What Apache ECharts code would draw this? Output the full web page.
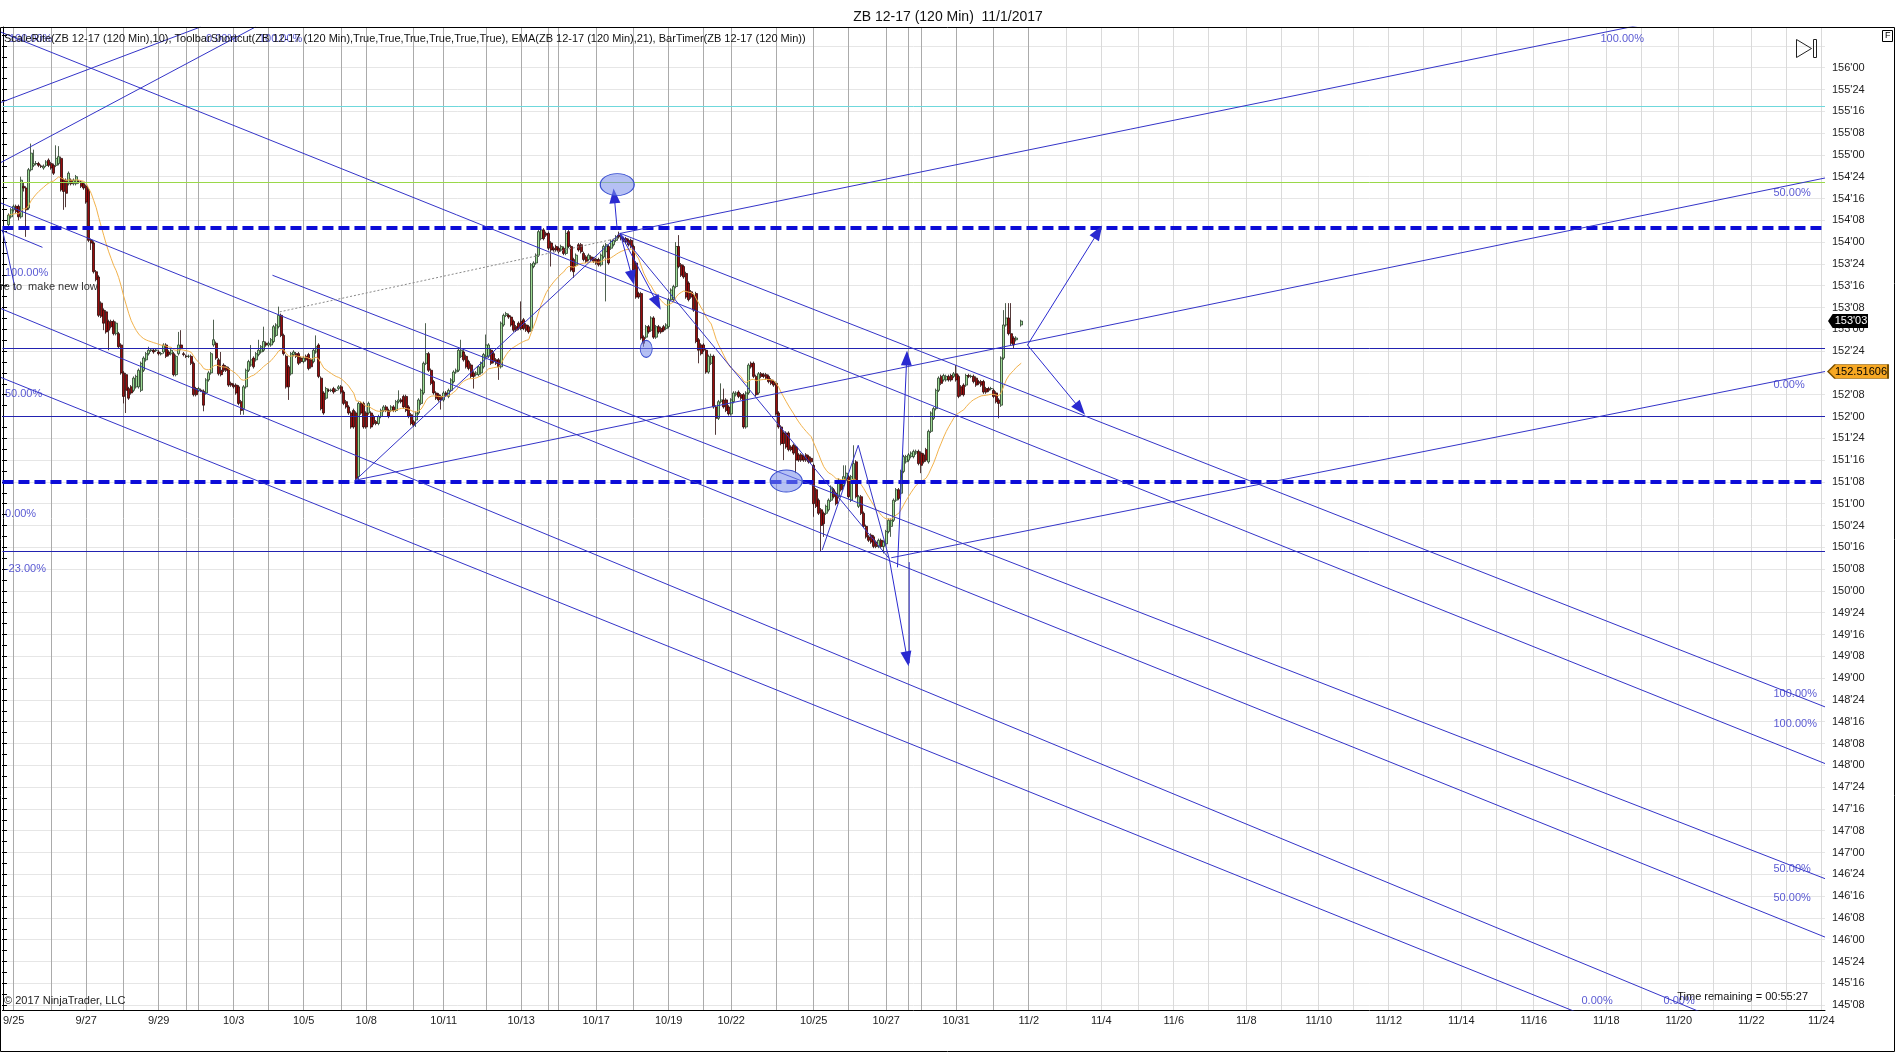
<!DOCTYPE html>
<html><head><meta charset="utf-8">
<script src="https://cdn.jsdelivr.net/npm/echarts@6/dist/echarts.min.js"></script>
<style>html,body{margin:0;padding:0;background:#fff}#c{width:1896px;height:1055px}</style>
</head><body><div id="c"></div>
<script>
// ---------------- DATA ----------------
const N_SLOTS = 729;          // bar slots on the time axis (history + projected future)
const FIRST_SLOT = 2;
// candles [open, close, low, high]
const seg1 = [
[154.20,154.31,154.18,154.33],[154.29,154.37,154.27,154.39],[154.37,154.41,154.35,154.43],[154.41,154.35,154.33,154.43],
[154.41,154.29,154.25,154.43],[154.29,154.71,154.27,154.75],[154.64,154.62,154.58,154.68],[154.62,154.37,154.06,154.64],
[154.39,154.83,154.37,154.85],[154.83,155.02,154.81,155.13],[154.88,154.90,154.86,155.06],[154.90,154.90,154.88,154.93],
[154.90,154.88,154.86,154.92],[154.87,154.87,154.85,154.89],[154.85,154.87,154.83,154.89],[154.88,154.92,154.86,154.94],
[154.94,154.88,154.86,154.96],[154.90,154.85,154.83,154.92],[154.88,154.79,154.77,154.90],[154.88,154.96,154.86,155.11],
[154.90,154.98,154.88,155.10],[154.96,154.60,154.58,154.98],[154.71,154.58,154.37,154.73],[154.71,154.56,154.40,154.73],
[154.67,154.79,154.65,154.81],[154.71,154.67,154.65,154.73],[154.67,154.71,154.65,154.73],[154.67,154.75,154.65,154.77],
[154.69,154.69,154.67,154.71],[154.69,154.64,154.62,154.71],[154.67,154.62,154.60,154.69],[154.64,154.46,154.44,154.66],
[154.60,154.02,154.00,154.62],[154.02,153.99,153.91,154.04],[153.99,153.66,153.64,154.01],[153.66,153.57,153.55,153.68],
[153.60,153.16,153.14,153.62],[153.30,153.15,153.13,153.32],[153.22,153.07,152.99,153.24],[153.20,152.97,152.95,153.22],
[153.09,152.99,152.76,153.11],[153.09,153.03,153.01,153.11],[153.09,152.95,152.93,153.11],[152.95,153.07,152.93,153.09],
[152.95,152.80,152.78,152.97],[152.82,152.50,152.48,152.84],[152.50,152.23,152.15,152.52],[152.48,152.30,152.04,152.50],
[152.32,152.21,152.19,152.34],[152.34,152.27,152.25,152.36],[152.30,152.44,152.28,152.46],[152.34,152.46,152.32,152.48],
[152.34,152.53,152.32,152.55],[152.30,152.61,152.28,152.63],[152.53,152.67,152.51,152.69],[152.65,152.72,152.63,152.74],
[152.72,152.76,152.70,152.80],[152.76,152.76,152.74,152.78],[152.76,152.74,152.72,152.78],[152.76,152.76,152.74,152.78],
[152.74,152.72,152.70,152.76],[152.72,152.72,152.70,152.74],[152.74,152.82,152.72,152.84],[152.82,152.69,152.67,152.84],
[152.74,152.71,152.69,152.76],[152.72,152.76,152.70,152.78],[152.72,152.48,152.46,152.74],[152.48,152.69,152.46,152.71],
[152.72,152.82,152.70,152.97],[152.82,152.78,152.76,152.99],[152.72,152.71,152.69,152.74],[152.69,152.69,152.67,152.71],
[152.69,152.69,152.67,152.71],[152.69,152.61,152.59,152.71],[152.61,152.25,152.23,152.63],[152.32,152.25,152.23,152.34],
[152.30,152.32,152.28,152.34],[152.30,152.30,152.28,152.32],[152.29,152.13,152.06,152.31],[152.27,152.42,152.25,152.44],
[152.42,152.50,152.40,152.52],[152.50,152.72,152.48,152.74]];
const seg2 = [
[152.82,152.88,152.80,153.11],[152.84,152.67,152.65,152.86],[152.65,152.49,152.47,152.67],[152.53,152.48,152.46,152.74],
[152.59,152.53,152.51,152.61],[152.57,152.53,152.51,152.59],[152.55,152.36,152.34,152.57],[152.38,152.36,152.34,152.40],
[152.36,152.34,152.32,152.38],[152.36,152.27,152.25,152.38],[152.34,152.15,152.13,152.36],[152.17,152.07,152.02,152.19],
[152.09,152.34,152.02,152.36],[152.34,152.53,152.32,152.55],[152.53,152.63,152.51,152.65],[152.59,152.65,152.57,152.82],
[152.67,152.57,152.55,152.69],[152.65,152.72,152.63,152.74],[152.71,152.76,152.69,152.88],[152.74,152.80,152.72,152.82],
[152.76,152.86,152.74,153.03],[152.84,152.82,152.80,152.86],[152.82,152.84,152.80,152.86],[152.82,152.88,152.80,152.90],
[152.86,153.03,152.84,153.05],[152.93,153.05,152.91,153.07],[153.03,153.16,153.01,153.26],[153.16,152.93,152.91,153.18],
[152.93,152.72,152.70,152.95],[152.69,152.34,152.32,152.71],[152.57,152.34,152.19,152.59],[152.49,152.72,152.47,152.74],
[152.71,152.74,152.69,152.76],[152.72,152.69,152.67,152.74],[152.72,152.61,152.59,152.74],[152.67,152.63,152.61,152.69],
[152.63,152.67,152.61,152.69],[152.69,152.65,152.63,152.71],[152.71,152.55,152.53,152.73],[152.65,152.57,152.55,152.67],
[152.63,152.76,152.61,152.78],[152.74,152.80,152.72,152.93],[152.82,152.46,152.44,152.84],[152.44,152.09,152.07,152.46],
[152.27,152.04,152.02,152.29],[152.21,152.32,152.19,152.34],[152.30,152.30,152.28,152.32],[152.30,152.30,152.28,152.32],
[152.32,152.28,152.26,152.34],[152.30,152.30,152.28,152.32],[152.32,152.34,152.30,152.36],[152.34,152.28,152.26,152.36],
[152.28,152.15,152.13,152.30],[152.17,152.11,152.09,152.19],[152.11,152.04,152.02,152.13],[152.04,151.88,151.86,152.06],
[152.07,151.88,151.86,152.09],[152.04,151.29,151.27,152.06],[151.31,152.15,151.27,152.17],[152.15,152.04,152.02,152.17],
[152.15,151.88,151.86,152.17],[152.04,151.88,151.86,152.06],[152.04,152.15,152.02,152.17],[152.04,151.88,151.86,152.06],
[152.00,151.92,151.90,152.02],[151.94,151.92,151.90,151.96],[151.92,152.00,151.90,152.02],[152.00,152.07,151.98,152.09],
[152.07,152.11,152.05,152.13],[152.11,152.07,152.05,152.13],[152.07,152.00,151.98,152.09],[152.07,152.11,152.05,152.13],
[152.11,152.07,152.05,152.13],[152.07,152.17,152.05,152.19],[152.17,152.19,152.15,152.30],[152.19,152.17,152.15,152.21],
[152.23,152.11,152.09,152.25],[152.23,152.07,152.05,152.25],[152.11,152.00,151.98,152.13],[152.02,151.92,151.90,152.04],
[151.94,151.90,151.88,151.96]];
const seg3 = [
[151.96,152.04,151.88,152.06],[152.04,152.19,152.02,152.21],[152.15,152.30,152.13,152.32],[152.27,152.61,152.25,152.63],
[152.61,152.72,152.59,153.07],[152.72,152.53,152.51,152.74],[152.53,152.38,152.36,152.55],[152.40,152.27,152.25,152.42],
[152.27,152.21,152.19,152.29],[152.25,152.19,152.17,152.27],[152.23,152.19,152.08,152.25],[152.19,152.27,152.17,152.29],
[152.27,152.25,152.23,152.29],[152.23,152.30,152.21,152.32],[152.30,152.42,152.28,152.44],[152.40,152.51,152.38,152.53],
[152.51,152.53,152.49,152.55],[152.53,152.76,152.51,152.78],[152.69,152.76,152.67,152.88],[152.74,152.65,152.63,152.76],
[152.69,152.57,152.55,152.71],[152.63,152.55,152.53,152.65],[152.59,152.46,152.44,152.61],[152.50,152.46,152.32,152.52],
[152.48,152.50,152.46,152.52],[152.48,152.57,152.46,152.59],[152.50,152.61,152.48,152.63],[152.57,152.71,152.55,152.73],
[152.69,152.82,152.67,152.94],[152.69,152.82,152.67,152.84],[152.76,152.61,152.59,152.78],[152.72,152.63,152.61,152.74],
[152.65,152.61,152.59,152.67],[152.65,152.57,152.42,152.67],[152.57,153.07,152.55,153.09],[153.05,153.16,153.03,153.18],
[153.16,153.18,153.14,153.20],[153.16,153.14,153.12,153.18],[153.14,153.05,153.03,153.16],[153.09,152.99,152.97,153.11],
[153.03,152.99,152.97,153.05],[153.07,153.01,152.99,153.09],[153.09,153.01,152.99,153.32],[153.11,153.01,152.99,153.13],
[153.05,152.99,152.97,153.07],[153.03,152.97,152.95,153.05],[152.99,153.74,152.97,153.76],[153.72,153.76,153.70,153.78],
[153.76,153.85,153.74,153.87],[153.85,154.12,153.83,154.14],[154.04,154.14,154.02,154.16],[154.14,154.04,154.02,154.16],
[154.10,154.08,154.06,154.12],[154.10,153.93,153.91,154.12],[153.99,153.91,153.72,154.01],[153.93,153.91,153.89,153.95],
[153.95,153.91,153.89,153.97],[153.93,153.89,153.87,153.95],[153.91,153.95,153.89,153.97],[153.93,153.87,153.85,153.95],
[153.87,154.10,153.85,154.16],[154.12,153.95,153.93,154.14],[153.95,153.68,153.66,153.97],[153.80,153.66,153.59,153.82],
[153.74,153.85,153.72,153.87],[153.97,153.91,153.89,153.99],[153.97,153.89,153.87,153.99],[153.87,153.80,153.78,153.89],
[153.83,153.78,153.76,153.85],[153.80,153.85,153.78,153.87],[153.83,153.80,153.78,153.85],[153.81,153.78,153.76,153.83],
[153.80,153.76,153.74,153.82],[153.80,153.74,153.72,153.82],[153.74,153.85,153.72,153.87],[153.83,153.95,153.81,153.97],
[153.89,153.97,153.32,153.99],[153.95,153.76,153.74,153.97],[153.93,154.01,153.91,154.03],[153.97,154.02,153.95,154.04],
[154.02,154.06,154.00,154.08]];
const seg4 = [
[154.08,154.06,154.04,154.12],[154.06,154.04,154.02,154.08],[154.04,154.02,154.00,154.06],[154.04,154.00,153.98,154.06],
[154.02,153.97,153.95,154.04],[154.02,153.95,153.93,154.04],[153.95,153.68,153.66,153.97],[153.76,153.37,153.35,153.78],
[153.41,153.37,153.35,153.43],[153.41,152.90,152.88,153.43],[152.91,152.84,152.80,152.93],[152.91,153.03,152.89,153.05],
[153.03,152.97,152.95,153.05],[152.99,153.13,152.97,153.15],[153.13,152.91,152.89,153.15],[152.91,153.03,152.89,153.05],
[153.03,152.97,152.95,153.05],[153.01,152.97,152.95,153.03],[153.03,152.99,152.97,153.05],[153.01,153.05,152.99,153.07],
[153.03,153.34,153.01,153.36],[153.34,153.45,153.32,153.47],[153.34,153.49,153.32,153.51],[153.49,153.95,153.47,154.00],
[153.95,153.72,153.70,154.08],[153.74,153.62,153.60,153.76],[153.72,153.60,153.58,153.74],[153.64,153.37,153.35,153.66],
[153.53,153.34,153.32,153.55],[153.43,153.37,153.35,153.45],[153.39,153.22,153.20,153.41],[153.41,152.86,152.84,153.43],
[152.88,152.76,152.61,152.90],[152.82,152.72,152.70,152.84],[152.82,152.76,152.74,152.84],[152.76,152.51,152.49,152.78],
[152.51,152.69,152.49,152.71],[152.61,152.69,152.59,152.72],[152.69,152.11,152.09,152.71],[152.11,151.98,151.79,152.13],
[151.98,152.17,151.96,152.19],[152.17,152.19,152.15,152.38],[152.19,152.11,152.09,152.32],[152.19,152.07,152.05,152.21],
[152.11,152.03,152.01,152.13],[152.03,152.19,152.01,152.21],[152.17,152.27,152.15,152.29],[152.25,152.27,152.23,152.29],
[152.28,152.23,152.21,152.30],[152.25,152.21,152.19,152.27],[152.25,151.88,151.86,152.27],[151.88,152.27,151.86,152.29],
[152.27,152.59,152.25,152.61],[152.61,152.57,152.55,152.63],[152.61,152.46,152.44,152.63],[152.46,152.25,152.23,152.48],
[152.27,152.49,152.25,152.51],[152.49,152.46,152.44,152.51],[152.48,152.46,152.44,152.50],[152.48,152.44,152.42,152.50],
[152.46,152.40,152.38,152.48],[152.42,152.38,152.36,152.44],[152.40,152.36,152.34,152.42],[152.38,152.03,152.01,152.40],
[152.04,151.88,151.86,152.06],[151.88,151.69,151.67,151.90],[151.81,151.69,151.50,151.83],[151.81,151.65,151.63,151.83],
[151.81,151.62,151.60,151.83],[151.65,151.62,151.60,151.67],[151.67,151.58,151.56,151.69],[151.65,151.50,151.35,151.67],
[151.56,151.50,151.48,151.58],[151.56,151.50,151.48,151.58],[151.54,151.50,151.48,151.56],[151.56,151.50,151.48,151.58],
[151.54,151.48,151.46,151.56],[151.52,151.48,151.46,151.54],[151.44,151.00,150.85,151.46]];
const seg5 = [
[151.16,150.97,150.95,151.18],[151.04,150.89,150.87,151.06],[150.93,150.75,150.45,150.95],[150.89,150.77,150.62,150.91],
[150.89,150.97,150.87,150.99],[150.93,151.04,150.91,151.06],[151.04,151.19,151.02,151.21],[151.16,151.08,151.06,151.18],
[151.12,151.00,150.98,151.14],[151.08,151.27,151.06,151.29],[151.23,151.16,151.14,151.25],[151.21,151.31,151.19,151.44],
[151.27,151.35,151.25,151.44],[151.31,151.08,151.06,151.33],[151.04,151.31,151.02,151.33],[151.27,151.46,151.25,151.67],
[151.48,151.08,151.06,151.50],[150.97,151.08,150.95,151.10],[151.08,150.89,150.87,151.10],[150.89,150.74,150.72,150.91],
[150.74,150.62,150.60,150.76],[150.62,150.58,150.56,150.64],[150.64,150.56,150.54,150.66],[150.62,150.51,150.49,150.64],
[150.56,150.51,150.49,150.58],[150.51,150.58,150.49,150.60],[150.58,150.51,150.49,150.60],[150.51,150.56,150.43,150.58],
[150.54,150.68,150.52,150.70],[150.68,150.81,150.66,150.83],[150.74,150.81,150.62,150.83],[150.81,151.04,150.79,151.06],
[151.04,151.16,151.02,151.18],[151.16,151.06,151.04,151.18],[151.12,151.37,151.10,151.39],[151.37,151.54,151.35,151.56],
[151.48,151.54,151.46,151.56],[151.50,151.56,151.48,151.58],[151.54,151.58,151.52,151.60],[151.54,151.60,151.52,151.62],
[151.58,151.60,151.56,151.62],[151.60,151.46,151.44,151.62],[151.58,151.44,151.35,151.60],[151.56,151.48,151.46,151.58],
[151.62,151.50,151.48,151.64],[151.48,151.83,151.46,151.85],[151.83,152.04,151.81,152.06],[151.98,152.09,151.96,152.11],
[152.09,152.30,152.07,152.32],[152.30,152.44,152.28,152.46],[152.46,152.38,152.36,152.48],[152.42,152.47,152.40,152.49],
[152.42,152.46,152.40,152.48],[152.46,152.42,152.40,152.48],[152.47,152.42,152.40,152.49],[152.46,152.49,152.44,152.51],
[152.49,152.42,152.40,152.59],[152.46,152.23,152.21,152.48],[152.34,152.25,152.23,152.36],[152.36,152.25,152.23,152.38],
[152.36,152.47,152.34,152.49],[152.47,152.46,152.44,152.49],[152.46,152.46,152.44,152.48],[152.46,152.40,152.38,152.48],
[152.44,152.36,152.34,152.46],[152.40,152.38,152.36,152.42],[152.40,152.36,152.34,152.42],[152.40,152.28,152.26,152.42],
[152.32,152.28,152.26,152.34],[152.32,152.30,152.28,152.34],[152.32,152.32,152.30,152.34],[152.30,152.23,152.21,152.32],
[152.27,152.17,152.15,152.29],[152.19,152.15,151.98,152.21],[152.13,152.67,152.11,152.69],[152.67,153.05,152.65,153.22],
[153.05,153.13,153.03,153.30],[153.13,152.95,152.93,153.30],[152.95,152.84,152.82,153.30],[152.90,152.82,152.78,152.92],
[152.88,152.90,152.86,152.92]];
const lastBar = [153.05,153.094,153.03,153.11];   // current (forming) bar

// time axis: tick / label slots
const tickSlots = [4,19,33,48,62,73,78,92,106,120,135,145,164,176,193,207,218,222,237,252,266,280,291,309,324,338,353,362,367,381,396,410,425,439,454,468,482,497,511,526,540,554,568,583,597,612,626,641,655,670,684,699,713,727];
const labelSlots = [4,33,62,92,120,145,176,207,237,266,291,324,353,381,410,439,468,497,526,554,583,612,641,670,699,727];
const labelTexts = ['9/25','9/27','9/29','10/3','10/5','10/8','10/11','10/13','10/17','10/19','10/22','10/25','10/27','10/31','11/2','11/4','11/6','11/8','11/10','11/12','11/14','11/16','11/18','11/20','11/22','11/24'];
const lastHistorySlot = 410;

// horizontal levels
const cyanLevels = [155.556];
const greenLevels = [154.69];
const dashedLevels = [154.156, 151.25];
const thinLevels = [152.78, 152.0, 150.45];

// drawn trend lines [slot1, price1, slot2, price2]
const trendLines = [
 [-1.3,156.41,728.5,148.02],[246.6,154.10,728.5,148.67],[-1.3,154.45,728.5,146.03],[107.5,153.62,728.5,146.70],
 [-1.3,153.24,690.5,145.03],[-1.3,152.45,638.5,145.06],
 [246.6,154.10,678.5,156.63],[140.7,151.27,728.5,154.735],[355,150.38,728.5,152.516],
 [140.7,151.27,246.6,154.10],[246.6,154.10,354.2,150.37],
 [327.4,150.47,341.8,151.67],[341.8,151.67,354.2,150.37],[362.2,150.33,362.2,149.17],
 [-1.3,155.60,78.7,156.467],[-1.3,154.91,100.7,156.467],[-1.3,154.14,15.5,153.94],[-0.5,154.14,4.7,153.45]
];
const dottedLines = [[110.4,153.20,246.6,154.05]];
const arrowLines = [
 [245.4,154.14,244.2,154.53],[246.6,154.10,251.4,153.59],[246.6,154.10,261.4,153.30],
 [409.5,152.82,437.8,154.117],[409.5,152.82,430.6,152.086],
 [357.5,150.27,361.2,152.67],[354.2,150.37,361.4,149.22]
];
// ellipses [slot, price, widthPx, heightPx]
const ellipses = [[245.4,154.66,34,22],[257.0,152.775,12,17],[313.0,151.26,32,22]];
// fib level labels [text, slot, price]
const fibLabels = [
 ['100.00%',0.3,153.646],['50.00%',0.3,152.26],['0.00%',0.3,150.88],['-23.00%',0.3,150.25],
 ['100.00%',638.5,156.33],['50.00%',707.7,154.56],['0.00%',707.7,152.36],
 ['100.00%',707.7,148.82],['100.00%',707.7,148.47],['50.00%',707.7,146.81],['50.00%',707.7,146.48],
 ['0.00%',630.9,145.30],['0.00%',663.7,145.30],
 ['100.00%',1.9,156.33],['0.00%',80.7,156.33],['100.00%',101.9,156.33]
];
const lastPrice = 153.094;
const channelPrice = 152.51606;

// ---------------- LAYOUT ----------------
const FONT = "'Liberation Sans', Arial, sans-serif";
const PX_PER_PT = 87.2, Y_AT_156 = 67.7;
const yOf = p => Y_AT_156 + (156 - p) * PX_PER_PT;
const pOf = y => 156 - (y - Y_AT_156) / PX_PER_PT;
const PLOT_L = 2, PLOT_R = 1825, PLOT_T = 27, PLOT_B = 1010, H = 1055;
const BLUE = '#3434c8';

function fmt32(v){ const w = Math.floor(v + 1e-9); const t = Math.round((v - w) * 32); return w + "'" + String(t).padStart(2,'0'); }

const bars = seg1.concat(seg2, seg3, seg4, seg5);
const candleData = bars.map((b,i) => [FIRST_SLOT + i, b[0], b[1], b[2], b[3]]);
candleData.push([FIRST_SLOT + bars.length + 1].concat(lastBar));
// EMA(21) indicator on closes
const emaData = []; let e = null;
candleData.forEach(d => { e = (e === null) ? d[2] : e + (d[2] - e) * 2 / 22; emaData.push([d[0], +e.toFixed(4)]); });

const cats = Array.from({length: N_SLOTS}, (_, i) => 's' + i);
const tickSet = new Set(tickSlots);
const labelMap = {}; labelSlots.forEach((s, i) => labelMap[s] = labelTexts[i]);

const chart = echarts.init(document.getElementById('c'), null, {renderer: 'canvas'});

const series = [];
series.push({
  type: 'candlestick', xAxisIndex: 0, yAxisIndex: 0, z: 3,
  data: candleData, encode: {x: 0, y: [1, 2, 3, 4]}, barWidth: 2.2,
  itemStyle: {color: '#9fdc96', color0: '#9a0c0c', borderColor: '#243a24', borderColor0: '#2a0808', borderWidth: 0.8}
});
series.push({type: 'line', xAxisIndex: 0, yAxisIndex: 0, z: 4, data: emaData, symbol: 'none',
  lineStyle: {color: '#f2b24c', width: 1}});
// vertical session / day lines
series.push({type: 'line', xAxisIndex: 1, yAxisIndex: 0, data: [], markLine: {
  silent: true, symbol: 'none', z: 1, label: {show: false},
  data: tickSlots.map(s => ({xAxis: s, lineStyle: {color: s <= lastHistorySlot ? '#ababab' : '#dadada', width: 1, type: 'solid'}}))
}});
// horizontal levels
const lvl = (arr, color, width, type) => arr.map(p => ({yAxis: p, lineStyle: {color, width, type}}));
series.push({type: 'line', xAxisIndex: 1, yAxisIndex: 0, data: [], markLine: {
  silent: true, symbol: 'none', z: 5, label: {show: false},
  data: [].concat(lvl(cyanLevels, '#6fd8dc', 1, 'solid'), lvl(greenLevels, '#9ad84a', 1, 'solid'),
                  lvl(thinLevels, '#2222b0', 1, 'solid'), lvl(dashedLevels, '#0c0cd8', 4, [11, 5]))
}});
trendLines.forEach(l => series.push({type: 'line', xAxisIndex: 1, yAxisIndex: 0, z: 5, symbol: 'none', clip: true,
  data: [[l[0], l[1]], [l[2], l[3]]], lineStyle: {color: BLUE, width: 1}}));
dottedLines.forEach(l => series.push({type: 'line', xAxisIndex: 1, yAxisIndex: 0, z: 5, symbol: 'none', clip: true,
  data: [[l[0], l[1]], [l[2], l[3]]], lineStyle: {color: '#8a8a8a', width: 1, type: [2, 2]}}));
series.push({type: 'line', xAxisIndex: 1, yAxisIndex: 0, data: [], markLine: {
  silent: true, z: 6, symbol: ['none', 'triangle'], symbolSize: [11, 15], label: {show: false},
  lineStyle: {color: '#2a2ad0', width: 1, type: 'solid'}, itemStyle: {color: '#1010f0'},
  data: arrowLines.map(a => [{coord: [a[0], a[1]]}, {coord: [a[2], a[3]]}])
}, markPoint: {
  silent: true, z: 7, symbol: 'circle', symbolKeepAspect: false, label: {show: false},
  itemStyle: {color: 'rgba(120,140,235,0.55)', borderColor: '#3a4fd0', borderWidth: 1},
  data: ellipses.map(el => ({coord: [el[0], el[1]], symbolSize: [el[2], el[3]]}))
}});
series.push({type: 'scatter', xAxisIndex: 1, yAxisIndex: 0, z: 8, symbolSize: 1,
  itemStyle: {color: 'rgba(0,0,0,0)'},
  data: fibLabels.map(f => [f[1], f[2], f[0]]),
  label: {show: true, position: 'right', distance: 0, formatter: p => p.value[2], color: '#3030c8', fontSize: 11, fontFamily: FONT}
});
// price tags on the axis
series.push({type: 'line', xAxisIndex: 1, yAxisIndex: 0, data: [], markPoint: {
  silent: true, z: 9, symbolKeepAspect: false,
  data: [
    {coord: [728.5, lastPrice], symbol: 'path://M0,7 L7,0 L60,0 L60,14 L7,14 Z', symbolSize: [40, 14], symbolOffset: [23, 0],
     itemStyle: {color: '#000'}, label: {show: true, formatter: fmt32(lastPrice), color: '#fff', fontSize: 11, fontFamily: FONT, offset: [3, 0]}},
    {coord: [728.5, channelPrice], symbol: 'path://M0,7 L7,0 L60,0 L60,14 L7,14 Z', symbolSize: [60, 14], symbolOffset: [33, 0],
     itemStyle: {color: '#f7a823', borderColor: '#7a5000', borderWidth: 1}, label: {show: true, formatter: channelPrice.toFixed(5), color: '#000', fontSize: 11, fontFamily: FONT, offset: [3, 0]}}
  ]
}});

const gridTop1 = yOf(156.25), gridBot1 = yOf(145.25);
const gridTop2 = yOf(156.375);
const option = {
  animation: false,
  backgroundColor: '#fff',
  title: {text: 'ZB 12-17 (120 Min)  11/1/2017', left: 'center', top: 5,
    textStyle: {fontFamily: FONT, fontSize: 14, fontWeight: 'normal', color: '#111'}},
  grid: [
    {left: PLOT_L, top: PLOT_T, width: PLOT_R - PLOT_L, height: PLOT_B - PLOT_T},
    {left: PLOT_L, top: gridTop1, width: PLOT_R - PLOT_L, height: gridBot1 - gridTop1},
    {left: PLOT_L, top: gridTop2, width: PLOT_R - PLOT_L, height: gridBot1 - gridTop2}
  ],
  xAxis: [
    {type: 'category', gridIndex: 0, data: cats, boundaryGap: true,
     axisLine: {lineStyle: {color: '#000', width: 1}},
     axisTick: {alignWithLabel: true, length: 5, interval: (i) => tickSet.has(i), lineStyle: {color: '#000'}},
     axisLabel: {interval: (i) => labelMap[i] !== undefined, formatter: (v, i) => labelMap[i] || '', margin: 5,
       color: '#222', fontSize: 11, fontFamily: FONT},
     splitLine: {show: false}},
    {type: 'value', gridIndex: 0, min: -0.5, max: N_SLOTS - 0.5, show: false},
    {type: 'value', gridIndex: 1, min: 0, max: 1, show: false},
    {type: 'value', gridIndex: 2, min: 0, max: 1, show: false}
  ],
  yAxis: [
    {type: 'value', gridIndex: 0, position: 'right', min: pOf(PLOT_B), max: pOf(PLOT_T),
     axisLine: {show: true, lineStyle: {color: '#000'}}, axisTick: {show: false}, axisLabel: {show: false}, splitLine: {show: false}},
    {type: 'value', gridIndex: 1, position: 'right', min: 145.25, max: 156.25, interval: 0.25,
     axisLine: {show: false}, axisTick: {show: false},
     axisLabel: {margin: 7, color: '#222', fontSize: 11, fontFamily: FONT, formatter: v => v > 156.1 ? '' : fmt32(v)},
     splitLine: {show: true, lineStyle: {color: '#e6e6e6', width: 1}}},
    {type: 'value', gridIndex: 2, position: 'right', min: 145.25, max: 156.375, interval: 0.125,
     axisLine: {show: false}, axisTick: {show: true, inside: false, length: 5, lineStyle: {color: '#000'}},
     axisLabel: {show: false}, splitLine: {show: false}}
  ],
  series: series,
  graphic: [
    {type: 'text', left: 4, top: 33, z: 100, style: {text: 'ScaleRite(ZB 12-17 (120 Min),10), ToolbarShortcut(ZB 12-17 (120 Min),True,True,True,True,True,True), EMA(ZB 12-17 (120 Min),21), BarTimer(ZB 12-17 (120 Min))', font: '11px ' + FONT, fill: '#111'}},
    {type: 'text', left: 0, top: 281, z: 100, style: {text: 're to  make new low', font: '11px ' + FONT, fill: '#333'}},
    {type: 'text', left: 4, top: 995, z: 100, style: {text: '\u00a9 2017 NinjaTrader, LLC', font: '11px ' + FONT, fill: '#222'}},
    {type: 'text', right: 1896 - 1808, top: 991, z: 100, style: {text: 'Time remaining = 00:55:27', font: '11px ' + FONT, fill: '#111', textAlign: 'right'}},
    {type: 'rect', z: 100, shape: {x: 0.5, y: 27.5, width: 1894, height: 1024}, style: {fill: 'none', stroke: '#000', lineWidth: 1}},
    {type: 'rect', z: 100, shape: {x: 1882.5, y: 30.5, width: 10, height: 11}, style: {fill: '#fff', stroke: '#000', lineWidth: 1}},
    {type: 'text', z: 101, left: 1885, top: 31, style: {text: 'F', font: '9px ' + FONT, fill: '#000'}},
    {type: 'polygon', z: 100, shape: {points: [[1796.5, 39.5], [1796.5, 57.5], [1811.5, 48.5]]}, style: {fill: 'none', stroke: '#222', lineWidth: 1}},
    {type: 'rect', z: 100, shape: {x: 1813.5, y: 39.5, width: 3, height: 18}, style: {fill: 'none', stroke: '#222', lineWidth: 1}}
  ]
};
chart.setOption(option);
</script></body></html>
